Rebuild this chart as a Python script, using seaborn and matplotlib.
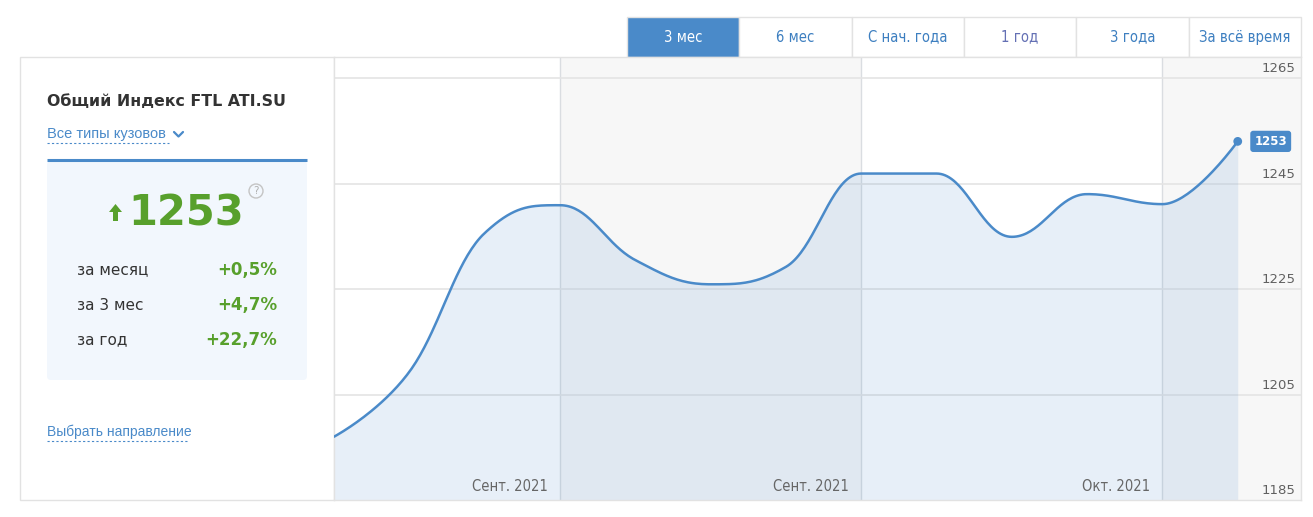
import numpy as np
import pandas as pd
import matplotlib.pyplot as plt
import seaborn as sns
from matplotlib.patches import Rectangle, FancyBboxPatch, Circle, Polygon

# данные индекса (недельные точки)
weeks = list(range(13))
index_values = [1197.0, 1209.3, 1235.6, 1240.9, 1230.5, 1225.9, 1229.2,
                1246.9, 1246.9, 1234.9, 1243.0, 1241.1, 1253.0]
y_ticks = [1185, 1205, 1225, 1245, 1265]
month_edges = [3, 7, 11]
month_labels = ["Сент. 2021", "Сент. 2021", "Окт. 2021"]
tabs = ["3 мес", "6 мес", "С нач. года", "1 год", "3 года", "За всё время"]
stat_names = ["за месяц", "за 3 мес", "за год"]
stat_values = ["+0,5%", "+4,7%", "+22,7%"]
current_value = 1253

BLUE = "#4a8ac9"
GREEN = "#58a02c"
NARROW = ["Liberation Sans Narrow", "DejaVu Sans"]


def spline_curve(xs, ys, smoothing=1.5, n=40):
    # сглаживание как у сплайна highcharts
    xs = np.asarray(xs, float)
    ys = np.asarray(ys, float)
    N = len(xs)
    left = [None] * N
    right = [None] * N
    d = smoothing + 1
    for i in range(1, N - 1):
        lx = (smoothing * xs[i] + xs[i - 1]) / d
        ly = (smoothing * ys[i] + ys[i - 1]) / d
        rx = (smoothing * xs[i] + xs[i + 1]) / d
        ry = (smoothing * ys[i] + ys[i + 1]) / d
        corr = (ry - ly) * (rx - xs[i]) / (rx - lx) + ys[i] - ry
        ly += corr
        ry += corr
        if ly > ys[i - 1] and ly > ys[i]:
            ly = max(ys[i - 1], ys[i]); ry = 2 * ys[i] - ly
        elif ly < ys[i - 1] and ly < ys[i]:
            ly = min(ys[i - 1], ys[i]); ry = 2 * ys[i] - ly
        if ry > ys[i + 1] and ry > ys[i]:
            ry = max(ys[i + 1], ys[i]); ly = 2 * ys[i] - ry
        elif ry < ys[i + 1] and ry < ys[i]:
            ry = min(ys[i + 1], ys[i]); ly = 2 * ys[i] - ry
        left[i] = (lx, ly)
        right[i] = (rx, ry)
    t = np.linspace(0, 1, n)[:, None]
    out = []
    for i in range(1, N):
        p0 = np.array([xs[i - 1], ys[i - 1]])
        p3 = np.array([xs[i], ys[i]])
        p1 = np.array(right[i - 1]) if right[i - 1] else p0
        p2 = np.array(left[i]) if left[i] else p3
        seg = ((1 - t) ** 3) * p0 + 3 * ((1 - t) ** 2) * t * p1 + 3 * (1 - t) * t ** 2 * p2 + t ** 3 * p3
        out.append(seg if i == 1 else seg[1:])
    out = np.vstack(out)
    return out[:, 0], out[:, 1]


sns.set_style("white")
plt.rcParams["font.family"] = ["DejaVu Sans"]

fig = plt.figure(figsize=(13.13, 5.17), dpi=100)
fig.patch.set_facecolor("white")

# фоновый слой для интерфейса (координаты в пикселях)
ui = fig.add_axes([0, 0, 1, 1], zorder=0)
ui.set_xlim(0, 1313)
ui.set_ylim(517, 0)
ui.axis("off")

# вкладки
tab_x = np.linspace(627, 1301, len(tabs) + 1)
for i, name in enumerate(tabs):
    active = i == 0
    ui.add_patch(Rectangle((tab_x[i], 17), tab_x[i + 1] - tab_x[i], 40,
                           facecolor=BLUE if active else "white",
                           edgecolor="#e2e2e2", lw=1))
    col = "white" if active else ("#6470b4" if name == "1 год" else "#3d7fc0")
    ui.text((tab_x[i] + tab_x[i + 1]) / 2, 37, name, ha="center", va="center",
            fontsize=10.6, color=col, family=NARROW, fontstretch="condensed")

# левая панель
ui.add_patch(Rectangle((20, 57), 314, 443, facecolor="white", edgecolor="#e2e2e2", lw=1))
ui.text(47, 101, "Общий Индекс FTL ATI.SU", fontsize=11.4, fontweight="bold",
        color="#333333", va="center")
ui.text(47, 134, "Все типы кузовов", fontsize=10.5, color=BLUE, va="center",
        family=["Liberation Sans", "DejaVu Sans"])
ui.plot([47, 169], [143, 143], color=BLUE, lw=0.8, ls=(0, (2, 2)))
ui.plot([174, 178.5, 183], [132, 136.5, 132], color=BLUE, lw=1.6)

ui.add_patch(FancyBboxPatch((47, 161), 260, 219, boxstyle="round,pad=0,rounding_size=4",
                            facecolor="#f2f7fd", edgecolor="none"))
ui.plot([47, 307], [160, 160], color=BLUE, lw=2.2, solid_capstyle="butt")

ui.add_patch(Polygon([[109, 212], [115.5, 204], [122, 212], [118, 212], [118, 221],
                      [113, 221], [113, 212]], closed=True, facecolor=GREEN, edgecolor="none"))
ui.text(186, 214, str(current_value), fontsize=30, fontweight="bold", color=GREEN,
        ha="center", va="center")
ui.add_patch(Circle((256, 191), 7, facecolor="none", edgecolor="#c4c4c4", lw=1))
ui.text(256, 191.5, "?", fontsize=7.5, color="#b0b0b0", ha="center", va="center")

for k, (nm, val) in enumerate(zip(stat_names, stat_values)):
    y = 270 + 35 * k
    ui.text(77, y, nm, fontsize=11, color="#333333", va="center")
    ui.text(277, y, val, fontsize=12, fontweight="bold", color=GREEN,
            va="center", ha="right")

ui.text(47, 432, "Выбрать направление", fontsize=10, color=BLUE, va="center",
        family=["Liberation Sans", "DejaVu Sans"])
ui.plot([47, 188], [441, 441], color=BLUE, lw=0.8, ls=(0, (2, 2)))

# график
ax = fig.add_axes([334 / 1313, 17 / 517, 967 / 1313, 443 / 517], zorder=1)
ax.set_facecolor("white")
x_max = 12.84
ax.set_xlim(0, x_max)
ax.set_ylim(1185, 1269)

ax.axvspan(month_edges[0], month_edges[1], color="#f7f7f7", lw=0, zorder=0)
ax.axvspan(month_edges[2], x_max, color="#f7f7f7", lw=0, zorder=0)
for e in month_edges:
    ax.axvline(e, color="#dadde1", lw=1, zorder=1)
for yt in y_ticks[1:]:
    ax.axhline(yt, color="#e4e4e4", lw=1.2, zorder=1)

cx, cy = spline_curve(weeks, index_values)
curve = pd.DataFrame({"x": cx, "y": cy})
ax.fill_between(curve["x"], curve["y"], 1185, color=BLUE, alpha=0.13, lw=0, zorder=2)
sns.lineplot(data=curve, x="x", y="y", sort=False, ax=ax, color=BLUE, lw=1.8, zorder=3)
sns.scatterplot(x=[weeks[-1]], y=[index_values[-1]], ax=ax, color=BLUE, s=40,
                edgecolor="none", zorder=4)

ax.annotate(str(current_value), xy=(weeks[-1], index_values[-1]), xytext=(12, 0),
            textcoords="offset points", ha="left", va="center", fontsize=8.5,
            fontweight="bold", color="white",
            bbox=dict(boxstyle="round,pad=0.35,rounding_size=0.25", fc=BLUE, ec="none"))

for yt in y_ticks:
    ax.annotate(str(yt), xy=(1, yt), xycoords=("axes fraction", "data"),
                xytext=(-4, 2), textcoords="offset points", ha="right", va="bottom",
                fontsize=9.5, color="#606060")

for e, lab in zip(month_edges, month_labels):
    ax.annotate(lab, xy=(e, 1185), xytext=(-9, 4), textcoords="offset points",
                ha="right", va="bottom", fontsize=10.5, color="#666666", family=NARROW,
                fontstretch="condensed")

ax.set_xticks([])
ax.set_yticks([])
ax.set_xlabel("")
ax.set_ylabel("")
for s in ax.spines.values():
    s.set_color("#e2e2e2")
    s.set_linewidth(1)

fig.savefig("out.png", dpi=100, facecolor="white")
